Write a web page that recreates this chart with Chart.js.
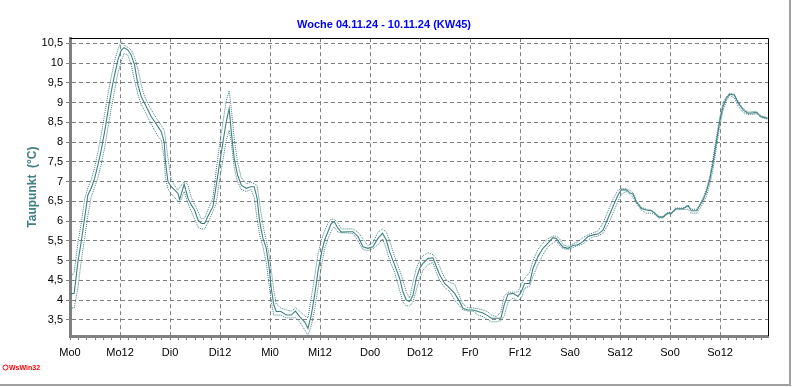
<!DOCTYPE html>
<html>
<head>
<meta charset="utf-8">
<script src="https://cdn.jsdelivr.net/npm/chart.js@4.4.1/dist/chart.umd.min.js"></script>
<style>
  html, body { margin: 0; padding: 0; background: #ffffff; }
  canvas { display: block; }
</style>
</head>
<body>
<canvas id="c" width="792" height="387"></canvas>
<script>
// ---- Data (hours since Monday 00:00) ----
const hours = [0,1.0,1.9,2.7,3.5,4.3,5.1,5.9,6.7,7.5,8.3,9.1,9.9,10.7,11.5,12.3,13.0,13.9,14.7,15.5,16.3,17.1,17.9,18.7,19.5,20.3,21.1,21.9,22.6,22.9,23.5,24.3,25.1,25.9,26.3,27.4,28.3,29.1,29.9,30.7,31.5,32.3,33.1,34.3,35.1,35.9,36.7,37.5,38.2,38.7,39.4,40.2,41.1,42.3,43.4,44.2,44.9,45.5,46.3,47.1,47.7,48.3,48.9,49.5,50.6,51.9,53.1,54.1,55.1,56.3,57.1,57.9,58.7,59.5,60.4,61.1,61.9,62.7,63.4,64.3,65.1,66.7,67.9,69.1,70.3,71.5,72.7,73.9,75.0,75.9,76.7,77.9,79.1,79.9,80.7,81.5,82.3,83.1,83.9,84.7,85.9,87.1,87.9,88.7,89.9,91.1,92.3,93.5,94.3,95.5,96.7,97.9,99.1,100.3,101.1,102.3,103.4,104.2,105.1,106.3,107.5,108.3,109.1,110.3,111.1,112.3,113.5,114.7,115.9,116.7,117.5,118.3,119.5,120.7,121.9,123.1,124.3,125.5,126.7,127.9,129.1,130.3,131.5,132.3,133.5,134.3,135.1,135.9,137.1,138.3,139.5,140.3,141.3,142.3,143.4,144.3,145.4,147.1,148.3,149.1,150.4,151.1,151.9,152.7,153.5,154.3,155.1,155.9,156.7,157.5,158.3,159.4,160.4,161.6,162.7,163.9,164.7,165.9,167.4];

const taupunkt = [4.15,4.17,4.97,5.48,6.07,6.66,6.83,7.08,7.42,7.80,8.26,8.77,9.28,9.70,10.08,10.33,10.39,10.33,10.20,9.95,9.45,9.15,8.98,8.81,8.64,8.52,8.39,8.26,8.00,7.50,7.00,6.87,6.79,6.70,6.55,6.93,6.58,6.41,6.28,6.03,5.94,5.94,6.12,6.37,6.91,7.46,8.00,8.52,8.85,8.26,7.59,7.17,6.91,6.83,6.87,6.87,6.58,5.99,5.56,5.31,4.89,4.30,3.88,3.71,3.71,3.62,3.62,3.72,3.58,3.45,3.28,3.62,4.12,4.72,5.22,5.52,5.73,5.94,5.99,5.82,5.72,5.73,5.73,5.61,5.35,5.31,5.35,5.56,5.69,5.52,5.22,4.89,4.55,4.21,4.00,3.96,4.12,4.55,4.80,4.93,5.05,5.07,4.85,4.64,4.42,4.30,4.17,3.96,3.79,3.75,3.75,3.71,3.67,3.60,3.54,3.54,3.54,3.88,4.15,4.17,4.09,4.21,4.42,4.42,4.80,5.10,5.31,5.44,5.58,5.56,5.44,5.34,5.31,5.38,5.40,5.48,5.61,5.65,5.67,5.77,6.07,6.37,6.66,6.79,6.79,6.72,6.68,6.49,6.32,6.28,6.26,6.20,6.10,6.10,6.20,6.20,6.31,6.31,6.39,6.26,6.26,6.39,6.53,6.74,7.04,7.46,8.00,8.52,8.90,9.11,9.21,9.19,8.98,8.81,8.73,8.74,8.75,8.64,8.60];

const taupunktMax = [4.55,4.70,5.45,5.95,6.55,6.85,7.05,7.35,7.75,8.20,8.70,9.20,9.65,10.05,10.35,10.55,10.45,10.40,10.33,10.15,9.85,9.45,9.15,8.98,8.82,8.68,8.55,8.42,8.30,8.10,7.60,7.05,6.90,6.78,6.85,7.00,6.92,6.60,6.42,6.25,6.05,6.08,6.28,6.60,7.30,7.95,8.50,9.05,9.30,8.85,8.10,7.50,7.10,6.95,6.98,6.95,6.90,6.45,5.90,5.50,5.20,4.75,4.25,3.90,3.80,3.75,3.72,3.80,3.72,3.60,3.55,4.05,4.60,5.15,5.55,5.75,5.95,6.05,6.05,5.95,5.80,5.80,5.80,5.72,5.55,5.38,5.45,5.72,5.80,5.72,5.50,5.10,4.75,4.50,4.20,4.05,4.45,4.80,5.00,5.12,5.20,5.15,5.05,4.85,4.55,4.45,4.40,4.10,3.90,3.80,3.80,3.78,3.75,3.70,3.62,3.58,3.70,4.10,4.20,4.20,4.20,4.40,4.55,4.70,5.00,5.28,5.45,5.55,5.62,5.62,5.55,5.40,5.36,5.42,5.48,5.58,5.65,5.70,5.75,5.95,6.25,6.55,6.78,6.82,6.82,6.78,6.72,6.52,6.35,6.30,6.28,6.22,6.12,6.12,6.22,6.22,6.33,6.33,6.41,6.30,6.30,6.42,6.58,6.80,7.12,7.58,8.12,8.62,8.98,9.15,9.24,9.21,9.02,8.84,8.76,8.77,8.78,8.66,8.62];

const taupunktMin = [3.80,3.80,4.30,5.00,5.55,6.15,6.62,6.85,7.10,7.45,7.85,8.35,8.85,9.30,9.75,10.05,10.25,10.20,9.95,9.55,9.20,8.95,8.80,8.62,8.45,8.30,8.15,8.05,7.60,7.10,6.82,6.68,6.60,6.50,6.45,6.75,6.45,6.25,6.05,5.85,5.80,5.80,5.95,6.25,6.45,7.05,7.55,8.05,8.30,8.00,7.35,7.00,6.80,6.75,6.80,6.60,6.05,5.65,5.35,4.95,4.45,3.95,3.62,3.62,3.62,3.55,3.55,3.55,3.45,3.25,3.10,3.35,3.75,4.30,4.90,5.30,5.55,5.75,5.85,5.72,5.70,5.70,5.68,5.50,5.28,5.25,5.30,5.40,5.55,5.30,5.00,4.70,4.25,3.95,3.85,3.85,3.95,4.25,4.55,4.75,4.90,4.95,4.70,4.50,4.32,4.22,4.00,3.85,3.75,3.72,3.72,3.62,3.58,3.50,3.45,3.45,3.48,3.60,3.95,4.05,3.98,4.05,4.30,4.35,4.60,4.90,5.15,5.35,5.45,5.50,5.38,5.30,5.28,5.33,5.38,5.42,5.52,5.60,5.62,5.70,5.90,6.20,6.50,6.68,6.75,6.68,6.60,6.45,6.28,6.20,6.20,6.17,6.08,6.08,6.18,6.18,6.29,6.29,6.30,6.20,6.20,6.30,6.45,6.62,6.92,7.30,7.85,8.38,8.80,9.05,9.18,9.12,8.90,8.75,8.70,8.70,8.72,8.62,8.58];

const xTickValues = [0,2,4,6,8,10,12,14,16,18,20,22,24,26,28,30,32,34,36,38,40,42,44,46,48,50,52,54,56,58,60,62,64,66,68,70,72,74,76,78,80,82,84,86,88,90,92,94,96,98,100,102,104,106,108,110,112,114,116,118,120,122,124,126,128,130,132,134,136,138,140,142,144,146,148,150,152,154,156,158,160,162,164,166];
const xLabels = ['Mo0','Mo12','Di0','Di12','Mi0','Mi12','Do0','Do12','Fr0','Fr12','Sa0','Sa12','So0','So12'];
const yTicks = [3.5,4,4.5,5,5.5,6,6.5,7,7.5,8,8.5,9,9.5,10,10.5];

const titleText = 'Woche 04.11.24 - 10.11.24 (KW45)';
const yTitle = 'Taupunkt  (°C)';
const logoText = 'WsWin32';

// ---- Chart ----
Chart.defaults.font.family = '"Liberation Sans", Arial, sans-serif';
const teal = '#408080';

function pts(vals) { return hours.map((h, i) => ({ x: h, y: vals[i] })); }

const framePlugin = {
  id: 'frame',
  afterDraw(chart) {
    const { ctx, chartArea: a } = chart;
    ctx.save();
    ctx.strokeStyle = '#000000';
    ctx.lineWidth = 1;
    ctx.beginPath();
    ctx.moveTo(a.left, Math.round(a.top) + 0.5);
    ctx.lineTo(Math.round(a.right) + 0.5, Math.round(a.top) + 0.5);
    ctx.lineTo(Math.round(a.right) + 0.5, a.bottom);
    ctx.stroke();
    ctx.strokeStyle = '#a0a0a0';
    ctx.lineWidth = 2;
    ctx.beginPath();
    ctx.moveTo(790, 0);
    ctx.lineTo(790, 385);
    ctx.lineTo(0, 385);
    ctx.stroke();
    ctx.fillStyle = '#ff0000';
    ctx.strokeStyle = '#ff0000';
    ctx.lineWidth = 1;
    ctx.beginPath();
    ctx.arc(5.5, 367.5, 2.5, 0, Math.PI * 2);
    ctx.stroke();
    ctx.font = 'bold 7px "Liberation Sans", Arial, sans-serif';
    ctx.textBaseline = 'middle';
    ctx.textAlign = 'left';
    ctx.fillText(logoText, 9, 368);
    ctx.restore();
  }
};

new Chart(document.getElementById('c'), {
  type: 'line',
  data: {
    datasets: [
      { label: 'Taupunkt', data: pts(taupunkt), borderColor: teal, borderWidth: 1.1, pointRadius: 0, fill: false, tension: 0 },
      { label: 'Max', data: pts(taupunktMax), borderColor: teal, borderWidth: 1, borderDash: [1, 1], pointRadius: 0, fill: false, tension: 0 },
      { label: 'Min', data: pts(taupunktMin), borderColor: teal, borderWidth: 1, borderDash: [1, 1], pointRadius: 0, fill: false, tension: 0 }
    ]
  },
  options: {
    responsive: false,
    animation: false,
    devicePixelRatio: 1,
    layout: { padding: { left: 0, right: 24, top: 0, bottom: 0 } },
    plugins: {
      legend: { display: false },
      tooltip: { enabled: false },
      title: {
        display: true, text: titleText, color: '#0000ff',
        font: { size: 11, weight: 'bold' },
        padding: { top: 18, bottom: 7 }
      }
    },
    scales: {
      x: {
        type: 'linear', min: 0, max: 167.5,
        afterFit: s => { s.height = 51; },
        afterBuildTicks: s => { s.ticks = xTickValues.map(v => ({ value: v })); },
        ticks: {
          autoSkip: false, maxRotation: 0, minRotation: 0, color: '#000000',
          font: { size: 11 }, padding: 6,
          callback: v => (v % 12 === 0 ? xLabels[v / 12] : '')
        },
        grid: {
          color: c => (c.tick && c.tick.value % 12 === 0 && c.tick.value !== 0) ? '#808080' : 'rgba(0,0,0,0)',
          tickColor: '#808080', tickLength: 4, tickBorderDash: [], lineWidth: 1
        },
        border: { color: '#808080', width: 3, dash: [4, 3] }
      },
      y: {
        min: 3.09, max: 10.63,
        afterFit: s => { s.width = 70; },
        afterBuildTicks: s => { s.ticks = yTicks.map(v => ({ value: v })); },
        ticks: {
          color: '#000000', font: { size: 11 }, padding: 3,
          callback: v => String(v).replace('.', ',')
        },
        grid: { color: '#808080', tickColor: '#808080', tickLength: 4, tickBorderDash: [], lineWidth: 1 },
        border: { color: '#808080', width: 3, dash: [4, 3] },
        title: {
          display: true, text: yTitle, color: teal,
          font: { size: 12, weight: 'bold' },
          padding: { top: 25, bottom: 0 }
        }
      }
    }
  },
  plugins: [framePlugin]
});
</script>
</body>
</html>
